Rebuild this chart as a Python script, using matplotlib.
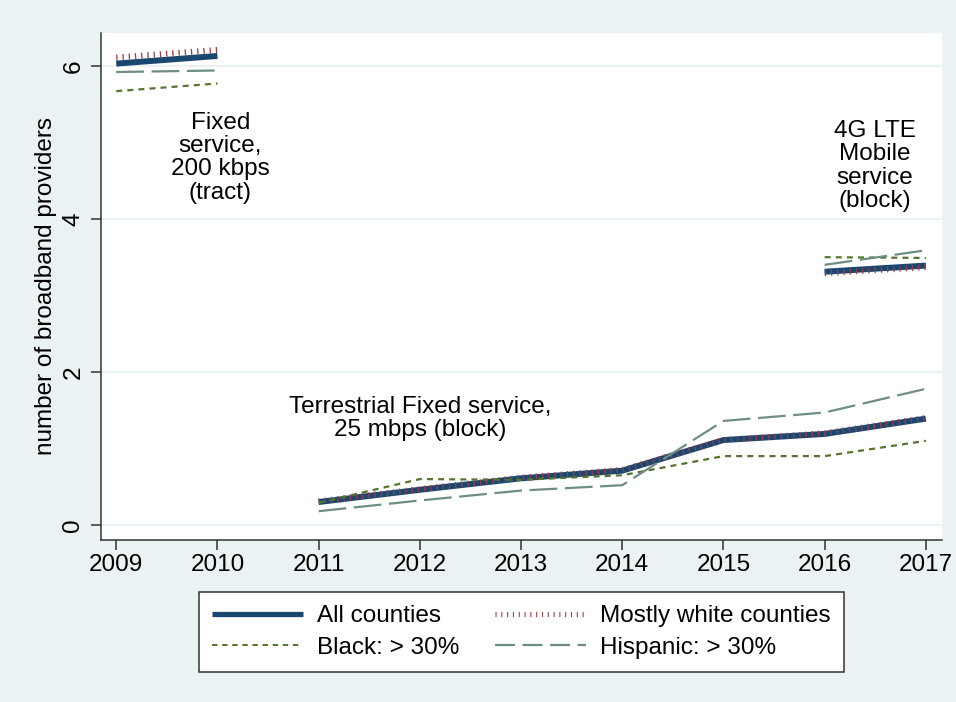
import matplotlib.pyplot as plt
from matplotlib.lines import Line2D

plt.rcParams['font.family'] = ['Liberation Sans', 'DejaVu Sans']

# number of broadband providers by year, three separate measurement periods
years_fixed = [2009, 2010]
years_terr = [2011, 2012, 2013, 2014, 2015, 2016, 2017]
years_lte = [2016, 2017]

all_fixed = [6.03, 6.13]
white_fixed = [6.11, 6.21]
black_fixed = [5.67, 5.77]
hisp_fixed = [5.92, 5.94]

all_terr = [0.30, 0.46, 0.61, 0.71, 1.11, 1.19, 1.39]
white_terr = [0.31, 0.47, 0.62, 0.72, 1.11, 1.20, 1.40]
black_terr = [0.29, 0.60, 0.59, 0.65, 0.90, 0.90, 1.10]
hisp_terr = [0.18, 0.32, 0.45, 0.52, 1.36, 1.47, 1.78]

all_lte = [3.31, 3.39]
white_lte = [3.29, 3.37]
black_lte = [3.50, 3.49]
hisp_lte = [3.40, 3.59]

bg = '#EAF2F3'
c_all = '#1a476f'
c_white = '#a03a45'
c_black = '#55752f'
c_hisp = '#6e8e84'
fs = 17.5

fig = plt.figure(figsize=(9.56, 7.02), dpi=100, facecolor=bg)
ax = fig.add_axes([0.1057, 0.2308, 0.8797, 0.7222])
ax.set_facecolor('white')

styles = {
    'all': dict(color=c_all, lw=4.3, solid_capstyle='butt', zorder=3),
    'white': dict(color=c_white, lw=4.2, linestyle=(0, (0.22, 0.85)),
                  dash_capstyle='butt', zorder=4),
    'black': dict(color=c_black, lw=1.6, linestyle=(0, (2.7, 2.3)),
                  dash_capstyle='butt', zorder=5),
    'hisp': dict(color=c_hisp, lw=1.6, linestyle=(0, (12.5, 3.4)),
                 dash_capstyle='butt', zorder=5),
}

for xs, a, w, b, h in [(years_fixed, all_fixed, white_fixed, black_fixed, hisp_fixed),
                       (years_terr, all_terr, white_terr, black_terr, hisp_terr),
                       (years_lte, all_lte, white_lte, black_lte, hisp_lte)]:
    ax.plot(xs, a, **styles['all'])
    ax.plot(xs, w, **styles['white'])
    ax.plot(xs, b, **styles['black'])
    ax.plot(xs, h, **styles['hisp'])

ax.text(2010.03, 4.80, 'Fixed\nservice,\n200 kbps\n(tract)', ha='center', va='center',
        fontsize=fs, linespacing=1.08)
ax.text(2016.5, 4.69, '4G LTE\nMobile\nservice\n(block)', ha='center', va='center',
        fontsize=fs, linespacing=1.08)
ax.text(2012.0, 1.39, 'Terrestrial Fixed service,\n25 mbps (block)', ha='center', va='center',
        fontsize=fs, linespacing=1.08)

ax.set_xlim(2008.85, 2017.16)
ax.set_ylim(-0.196, 6.43)
ax.set_xticks(range(2009, 2018))
ax.set_yticks([0, 2, 4, 6])
ax.tick_params(axis='x', labelsize=fs, length=7, width=1.1, color='#333333', pad=3)
ax.tick_params(axis='y', labelsize=fs, length=7, width=1.1, color='#333333', pad=5,
               labelrotation=90)
for lab in ax.get_yticklabels():
    lab.set_va('center')

ax.grid(axis='y', color=bg, lw=1.6)
ax.set_axisbelow(True)
for s in ['top', 'right']:
    ax.spines[s].set_visible(False)
for s in ['left', 'bottom']:
    ax.spines[s].set_color('#333333')
    ax.spines[s].set_linewidth(1.1)

ax.set_ylabel('number of broadband providers', fontsize=fs, labelpad=4)

# legend, filled row by row: column-major order for matplotlib
handles = [
    Line2D([], [], color=c_all, lw=3.8, solid_capstyle='butt'),
    Line2D([], [], color=c_black, lw=1.4, linestyle=(0, (2.8, 2.4)), dash_capstyle='butt'),
    Line2D([], [], color=c_white, lw=3.8, linestyle=(0, (0.2, 0.9)), dash_capstyle='butt'),
    Line2D([], [], color=c_hisp, lw=1.6, linestyle=(0, (9, 3.4)), dash_capstyle='butt'),
]
labels = ['All counties', 'Black: > 30%', 'Mostly white counties', 'Hispanic: > 30%']
leg = fig.legend(handles, labels, ncol=2, loc='center',
                 bbox_to_anchor=(0.5455, 0.0997), fontsize=fs, frameon=True,
                 fancybox=False, edgecolor='#333333', facecolor='white', framealpha=1,
                 handlelength=3.75, handletextpad=0.58, columnspacing=1.45, borderpad=0.55,
                 labelspacing=0.38, borderaxespad=0)
leg.get_frame().set_linewidth(1.1)

fig.savefig('out.png', dpi=100, facecolor=bg)
